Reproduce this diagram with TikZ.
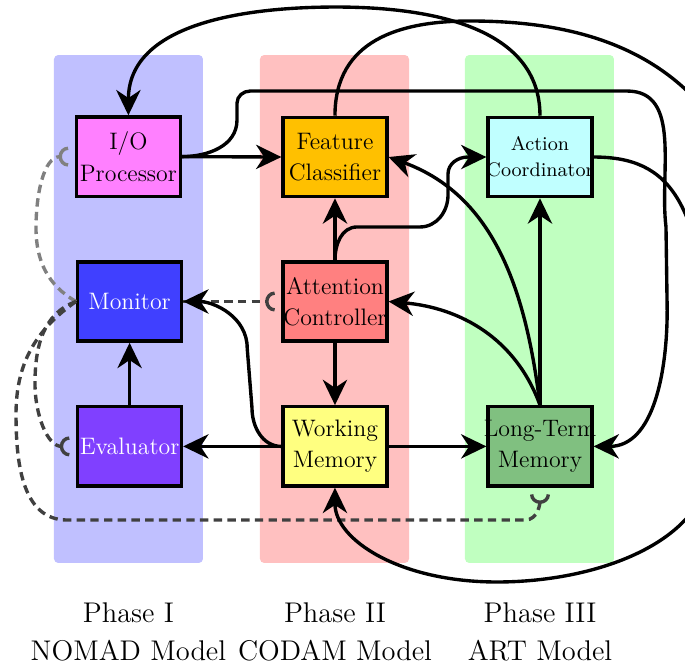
\documentclass[tikz,border=0pt]{standalone}
\usetikzlibrary{arrows.meta}
\definecolor{laneI}{HTML}{C0C0FF}
\definecolor{laneII}{HTML}{FFC0C0}
\definecolor{laneIII}{HTML}{C0FFC0}
\definecolor{ioC}{HTML}{FF80FF}
\definecolor{monC}{HTML}{4040FF}
\definecolor{evaC}{HTML}{8040FF}
\definecolor{fcC}{HTML}{FFC000}
\definecolor{attC}{HTML}{FF8080}
\definecolor{wmC}{HTML}{FFFF80}
\definecolor{acC}{HTML}{C0FFFF}
\definecolor{ltmC}{HTML}{80C080}
\definecolor{probeDark}{HTML}{404040}
\definecolor{probeLight}{HTML}{808080}
\newcommand\fitline[1]{\makebox[1.73cm]{#1}}

\begin{document}
\begin{tikzpicture}[line width=1.6pt,
  lane/.style={rounded corners=2pt},
  unit/.style={draw=black,minimum width=1.73cm,minimum height=1.32cm,text width=1.73cm,
    inner xsep=0pt,inner ysep=0pt,align=center,font=\fontsize{11.3}{14.8}\selectfont},
  phase/.style={align=center,inner sep=0pt,font=\fontsize{13.5}{18}\selectfont},
  link/.style={-{Stealth[length=12pt,width=11.5pt,inset=3.8pt]}},
  probe/.style={dash pattern=on 4pt off 2.5pt,-{Arc Barb[reversed,length=4.5pt,width=9.5pt]},shorten >=3.2pt}]
\useasboundingbox (0,0) rectangle (11.417,-11.117);
% ---------- phase lanes ----------
\fill[laneI,lane] (0.9,-0.917) rectangle (3.383,-9.383);
\fill[laneII,lane] (4.333,-0.917) rectangle (6.817,-9.383);
\fill[laneIII,lane] (7.75,-0.917) rectangle (10.233,-9.383);
% ---------- units ----------
\node[unit,fill=ioC] (io) at (2.14,-2.61) {I/O\\\fitline{Processor}};
\node[unit,fill=monC,text=white] (mon) at (2.16,-5.025) {Monitor};
\node[unit,fill=evaC,text=white] (eva) at (2.16,-7.44) {\fitline{Evaluator}};
\node[unit,fill=fcC] (fc) at (5.583,-2.617) {Feature\\\fitline{Classifier}};
\node[unit,fill=attC] (att) at (5.583,-5.025) {Attention\\\fitline{Controller}};
\node[unit,fill=wmC] (wm) at (5.583,-7.44) {Working\\Memory};
\node[unit,fill=acC,font=\fontsize{9.3}{12.3}\selectfont] (ac) at (9.0,-2.617) {Action\\\fitline{Coordinator}};
\node[unit,fill=ltmC] (ltm) at (9.0,-7.44) {\fitline{Long-Term}\\Memory};
% ---------- phase labels ----------
\node[phase] (p1) at (2.14,-10.53) {Phase I\\NOMAD Model};
\node[phase] (p2) at (5.583,-10.53) {Phase II\\CODAM Model};
\node[phase] (p3) at (9.0,-10.53) {Phase III\\ART Model};
% ---------- monitoring links ----------
\draw[probe,draw=probeLight] (mon.west) to[out=150,in=-90] (0.6,-3.8) to[out=90,in=180] (io.west);
\draw[probe,draw=probeDark] (mon.west) to[out=200,in=90] (0.583,-6.4) to[out=-90,in=180] (eva.west);
\draw[probe,draw=probeDark] (mon.west) to[out=215,in=90] (0.267,-6.9) to[out=-90,in=180] (1.117,-8.667)
      -- (8.75,-8.667) to[out=0,in=-90] (ltm.south);
\draw[probe,draw=probeDark] (mon.east) -- (att.west);
% ---------- data flow ----------
\draw[link] (io.east) -- (fc.west);
\draw[link] (io.east) to[out=0,in=-90] (3.95,-2.0) -- (3.95,-1.72) to[out=90,in=180] (4.17,-1.517)
      -- (10.45,-1.517) to[out=0,in=97] (11.1,-3.78) -- (11.12,-5.17) to[out=-90,in=0] (ltm.east);
\draw[link] (ac.north) to[out=90,in=0] (5.6,-0.117) to[out=180,in=90] (io.north);
\coordinate (offR) at (12.0,-2.167);
\draw (fc.north) .. controls (5.583,-0.667) and (6.667,-0.35) .. (7.833,-0.35)
      .. controls (9.333,-0.35) and (11.0,-0.667) .. (offR);
\draw[link] (ac.east) .. controls (11.167,-2.617) and (11.75,-3.333) .. (11.833,-6.25) -- (11.833,-7.667)
      .. controls (11.833,-9.0) and (10.0,-9.7) .. (8.283,-9.7)
      .. controls (6.667,-9.7) and (5.583,-9.0) .. (wm.south);
\draw[link] (att.north) -- (fc.south);
\draw[link] (att.north) to[out=90,in=180] (5.95,-3.783) -- (7.0,-3.783) to[out=0,in=-90] (7.467,-3.25)
      -- (7.467,-2.9) to[out=90,in=180] (7.8,-2.617) -- (ac.west);
\draw[link] (att.south) -- (wm.north);
\draw[link] (wm.west) -- (eva.east);
\draw[link] (wm.west) to[out=180,in=-90] (4.2,-6.8) -- (4.12,-5.8) to[out=90,in=0] (mon.east);
\draw[link] (eva.north) -- (mon.south);
\draw[link] (wm.east) -- (ltm.west);
\draw[link] (ltm.north) -- (ac.south);
\draw[link] (ltm.north) to[out=110,in=-5] (att.east);
\draw[link] (ltm.north) to[out=97,in=-20] (fc.east);
\end{tikzpicture}
\end{document}
